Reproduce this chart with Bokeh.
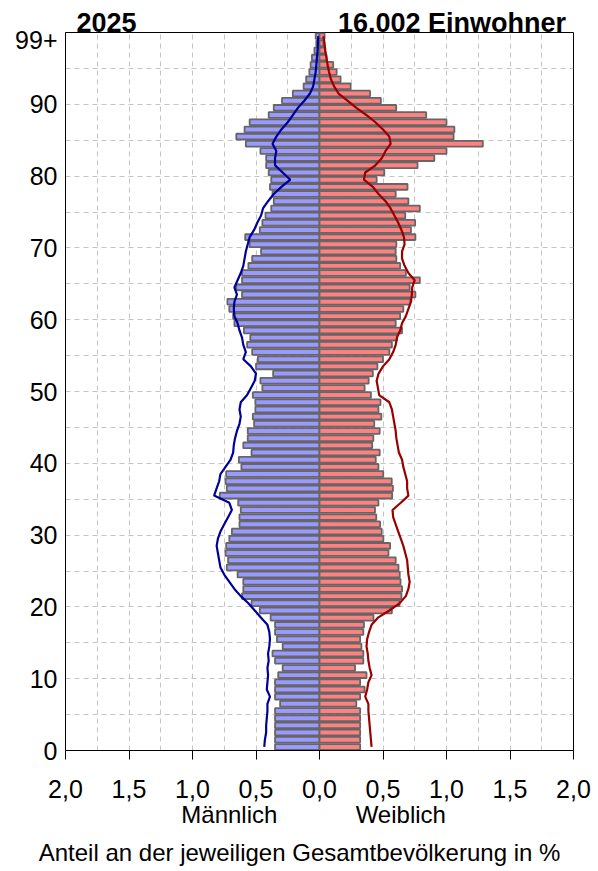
from bokeh.plotting import figure
from bokeh.models import FixedTicker, LinearAxis, ColumnDataSource
from bokeh.embed import file_html
from bokeh.resources import INLINE

# ---------------- data ----------------
ages = list(range(100))

male = [
    0.35, 0.35, 0.35, 0.35, 0.35, 0.35, 0.31, 0.35, 0.35, 0.35,
    0.325, 0.29, 0.35, 0.37, 0.29, 0.335, 0.35, 0.35, 0.385, 0.47,
    0.535, 0.61, 0.60, 0.60, 0.645, 0.73, 0.72, 0.74, 0.735, 0.71,
    0.69, 0.63, 0.63, 0.62, 0.64, 0.785, 0.73, 0.74, 0.735, 0.615,
    0.635, 0.535, 0.60, 0.565, 0.565, 0.515, 0.525, 0.505, 0.505, 0.525,
    0.45, 0.465, 0.365, 0.50, 0.485, 0.53, 0.57, 0.545, 0.595, 0.67,
    0.68, 0.71, 0.725, 0.61, 0.655, 0.61, 0.61, 0.56, 0.53, 0.46,
    0.55, 0.585, 0.47, 0.45, 0.425, 0.38, 0.36, 0.37, 0.39, 0.38,
    0.40, 0.42, 0.42, 0.465, 0.58, 0.655, 0.59, 0.55, 0.40, 0.36,
    0.295, 0.21, 0.125, 0.105, 0.08, 0.07, 0.06, 0.04, 0.025, 0.03,
]

female = [
    0.32, 0.32, 0.32, 0.32, 0.32, 0.32, 0.29, 0.32, 0.355, 0.32,
    0.37, 0.28, 0.345, 0.345, 0.33, 0.32, 0.345, 0.35, 0.425, 0.57,
    0.63, 0.645, 0.65, 0.638, 0.632, 0.622, 0.60, 0.543, 0.556, 0.503,
    0.49, 0.477, 0.447, 0.437, 0.464, 0.572, 0.578, 0.569, 0.502, 0.464,
    0.443, 0.474, 0.415, 0.424, 0.474, 0.431, 0.487, 0.464, 0.48, 0.405,
    0.355, 0.387, 0.42, 0.456, 0.50, 0.55, 0.57, 0.61, 0.65, 0.60,
    0.635, 0.66, 0.715, 0.755, 0.71, 0.79, 0.68, 0.635, 0.605, 0.60,
    0.605, 0.755, 0.72, 0.753, 0.675, 0.79, 0.70, 0.60, 0.693, 0.45,
    0.51, 0.772, 0.904, 1.0, 1.286, 1.056, 1.062, 1.0, 0.84, 0.604,
    0.483, 0.398, 0.245, 0.166, 0.135, 0.108, 0.055, 0.045, 0.03, 0.04,
]

male_ref = [
    0.435, 0.43, 0.42, 0.42, 0.415, 0.41, 0.41, 0.39, 0.415, 0.41,
    0.405, 0.41, 0.40, 0.405, 0.395, 0.39, 0.395, 0.41, 0.46, 0.51,
    0.56, 0.62, 0.67, 0.71, 0.75, 0.78, 0.79, 0.80, 0.81, 0.80,
    0.78, 0.75, 0.72, 0.69, 0.71, 0.83, 0.81, 0.79, 0.78, 0.74,
    0.70, 0.68, 0.675, 0.665, 0.65, 0.63, 0.62, 0.63, 0.62, 0.57,
    0.54, 0.51, 0.50, 0.54, 0.60, 0.58, 0.60, 0.61, 0.63, 0.645,
    0.67, 0.675, 0.67, 0.65, 0.67, 0.645, 0.62, 0.60, 0.59, 0.58,
    0.565, 0.55, 0.515, 0.49, 0.46, 0.445, 0.405, 0.36, 0.30, 0.23,
    0.29, 0.35, 0.35, 0.34, 0.37, 0.34, 0.30, 0.25, 0.21, 0.17,
    0.12, 0.075, 0.05, 0.04, 0.03, 0.025, 0.02, 0.015, 0.012, 0.01,
]

female_ref = [
    0.41, 0.405, 0.40, 0.395, 0.39, 0.385, 0.385, 0.36, 0.375, 0.385,
    0.41, 0.395, 0.385, 0.38, 0.37, 0.375, 0.39, 0.41, 0.46, 0.55,
    0.63, 0.68, 0.70, 0.71, 0.70, 0.695, 0.69, 0.675, 0.66, 0.64,
    0.62, 0.60, 0.58, 0.575, 0.64, 0.70, 0.69, 0.69, 0.675, 0.66,
    0.65, 0.625, 0.615, 0.605, 0.60, 0.59, 0.58, 0.57, 0.55, 0.47,
    0.46, 0.45, 0.465, 0.50, 0.55, 0.58, 0.60, 0.61, 0.635, 0.65,
    0.68, 0.70, 0.72, 0.727, 0.73, 0.75, 0.70, 0.67, 0.65, 0.65,
    0.67, 0.665, 0.645, 0.62, 0.59, 0.56, 0.52, 0.465, 0.42, 0.35,
    0.36, 0.44, 0.49, 0.52, 0.56, 0.55, 0.50, 0.44, 0.37, 0.29,
    0.22, 0.15, 0.115, 0.09, 0.075, 0.063, 0.055, 0.045, 0.04, 0.03,
]

x_ticks = [-2.0, -1.5, -1.0, -0.5, 0.0, 0.5, 1.0, 1.5, 2.0]
x_tick_labels = ["2,0", "1,5", "1,0", "0,5", "0,0", "0,5", "1,0", "1,5", "2,0"]
y_ticks = [0, 10, 20, 30, 40, 50, 60, 70, 80, 90, 99]
y_tick_labels = ["0", "10", "20", "30", "40", "50", "60", "70", "80", "90", "99+"]

header_pos = [-1.677, 1.043]
header_labels = ["2025", "16.002 Einwohner"]
sex_pos = [-0.71, 0.64]
sex_labels = ["Männlich", "Weiblich"]
caption_pos = [-0.157]
caption_labels = ["Anteil an der jeweiligen Gesamtbevölkerung in %"]

FONT = "Liberation Sans"

# ---------------- figure ----------------
p = figure(width=596, height=868, x_range=(-2, 2), y_range=(0, 100),
           output_backend="svg", toolbar_location=None,
           min_border_left=65, min_border_right=23,
           min_border_top=32, min_border_bottom=117)
p.background_fill_color = "white"
p.outline_line_color = "black"
p.outline_line_width = 1

src = ColumnDataSource(dict(
    y=[a + 0.5 for a in ages],
    mneg=[-v for v in male],
    f=female,
    zero=[0.0] * len(ages),
    mref=[-v for v in male_ref],
    fref=female_ref,
))

p.hbar(y="y", left="mneg", right="zero", height=0.8, source=src,
       fill_color="#9999ff", line_color="#666666", line_width=1.8)
p.hbar(y="y", left="zero", right="f", height=0.8, source=src,
       fill_color="#ff8080", line_color="#666666", line_width=1.8)

p.line(x="mref", y="y", source=src, line_color="#000099", line_width=2.2)
p.line(x="fref", y="y", source=src, line_color="#990000", line_width=2.2)

# main x axis
p.xaxis.ticker = FixedTicker(ticks=x_ticks)
p.xaxis.major_label_overrides = {t: l for t, l in zip(x_ticks, x_tick_labels)}
p.xaxis.major_tick_out = 9
p.xaxis.major_tick_in = 0
p.xaxis.minor_tick_line_color = None
p.xaxis.major_tick_line_color = "black"
p.xaxis.axis_line_color = "black"
p.xaxis.major_label_text_font = FONT
p.xaxis.major_label_text_font_size = "25px"
p.xaxis.major_label_text_color = "black"
p.xaxis.major_label_standoff = 20

# y axis
p.yaxis.ticker = FixedTicker(ticks=y_ticks)
p.yaxis.major_label_overrides = {t: l for t, l in zip(y_ticks, y_tick_labels)}
p.yaxis.major_tick_out = 0
p.yaxis.major_tick_in = 0
p.yaxis.minor_tick_line_color = None
p.yaxis.axis_line_color = "black"
p.yaxis.major_label_text_font = FONT
p.yaxis.major_label_text_font_size = "25px"
p.yaxis.major_label_text_color = "black"
p.yaxis.major_label_standoff = 8


def text_axis(ticks, labels, size, style="normal", standoff=0):
    return LinearAxis(ticker=FixedTicker(ticks=ticks),
                      major_label_overrides={t: l for t, l in zip(ticks, labels)},
                      axis_line_color=None, major_tick_line_color=None,
                      minor_tick_line_color=None,
                      major_tick_out=0, major_tick_in=0,
                      major_label_standoff=standoff,
                      major_label_text_font=FONT,
                      major_label_text_font_size=size,
                      major_label_text_font_style=style,
                      major_label_text_color="black")


p.add_layout(text_axis(sex_pos, sex_labels, "24px", standoff=0), "below")
p.add_layout(text_axis(caption_pos, caption_labels, "24px", standoff=8), "below")
p.add_layout(text_axis(header_pos, header_labels, "27px", "bold", standoff=-5), "above")

# grid
p.xgrid.ticker = FixedTicker(ticks=[i * 0.25 for i in range(-7, 8)])
p.ygrid.ticker = FixedTicker(ticks=list(range(5, 100, 5)))
for g in (p.xgrid, p.ygrid):
    g.grid_line_color = "#c4c4c4"
    g.grid_line_dash = "5 4"
    g.grid_line_width = 1
p.xgrid.level = "underlay"
p.ygrid.level = "underlay"

open("out.html", "w").write(file_html(p, INLINE))
